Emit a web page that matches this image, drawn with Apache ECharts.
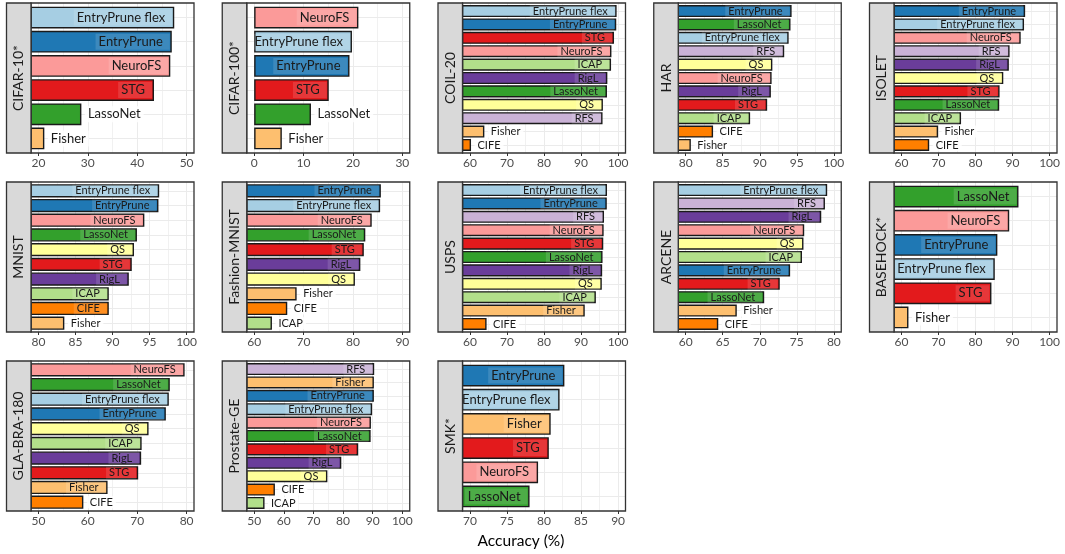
<!DOCTYPE html>
<html><head><meta charset="utf-8">
<script src="https://cdn.jsdelivr.net/npm/echarts@6/dist/echarts.min.js"></script>
<style>html,body{margin:0;padding:0;background:#fff}#c{width:1065px;height:554px}</style>
</head><body><div id="c"></div>
<script>
const panelNames = ['CIFAR-10*','CIFAR-100*','COIL-20','HAR','ISOLET','MNIST','Fashion-MNIST','USPS','ARCENE','BASEHOCK*','GLA-BRA-180','Prostate-GE','SMK*'];

const cifar10Methods = ['EntryPrune flex','EntryPrune','NeuroFS','STG','LassoNet','Fisher'];
const cifar10Acc = [47.5,47.0,46.7,43.4,28.7,21.2];
const cifar10Ticks = [20,30,40,50];

const cifar100Methods = ['NeuroFS','EntryPrune flex','EntryPrune','STG','LassoNet','Fisher'];
const cifar100Acc = [21.1,19.8,19.3,15.1,11.5,5.6];
const cifar100Ticks = [0,10,20,30];

const coil20Methods = ['EntryPrune flex','EntryPrune','STG','NeuroFS','ICAP','RigL','LassoNet','QS','RFS','Fisher','CIFE'];
const coil20Acc = [99.6,99.5,98.9,98.2,98.1,97.1,97.0,95.9,95.8,63.9,60.3];
const coil20Ticks = [60,70,80,90,100];

const harMethods = ['EntryPrune','LassoNet','EntryPrune flex','RFS','QS','NeuroFS','RigL','STG','ICAP','CIFE','Fisher'];
const harAcc = [94.3,94.15,93.9,93.3,91.7,91.6,91.5,91.0,88.7,83.7,80.7];
const harTicks = [80,85,90,95,100];

const isoletMethods = ['EntryPrune','EntryPrune flex','NeuroFS','RFS','RigL','QS','STG','LassoNet','ICAP','Fisher','CIFE'];
const isoletAcc = [93.4,93.1,92.2,89.2,89.0,87.5,86.5,86.4,76.1,69.9,67.5];
const isoletTicks = [60,70,80,90,100];

const mnistMethods = ['EntryPrune flex','EntryPrune','NeuroFS','LassoNet','QS','STG','RigL','ICAP','CIFE','Fisher'];
const mnistAcc = [96.3,96.2,94.3,93.3,92.9,92.6,92.2,89.5,89.5,83.5];
const mnistTicks = [80,85,90,95,100];

const fmnistMethods = ['EntryPrune','EntryPrune flex','NeuroFS','LassoNet','STG','RigL','QS','Fisher','CIFE','ICAP'];
const fmnistAcc = [85.65,85.5,83.8,82.5,82.2,81.5,80.4,68.6,66.7,63.6];
const fmnistTicks = [60,70,80,90];

const uspsMethods = ['EntryPrune flex','EntryPrune','RFS','NeuroFS','STG','LassoNet','RigL','QS','ICAP','Fisher','CIFE'];
const uspsAcc = [97.0,96.95,96.2,96.1,96.0,95.8,95.7,95.6,94.0,91.0,64.5];
const uspsTicks = [60,70,80,90,100];

const arceneMethods = ['EntryPrune flex','RFS','RigL','NeuroFS','QS','ICAP','EntryPrune','STG','LassoNet','Fisher','CIFE'];
const arceneAcc = [79.1,78.8,78.3,76.0,75.9,75.7,74.1,72.7,70.6,66.9,64.4];
const arceneTicks = [60,65,70,75,80];

const basehockMethods = ['LassoNet','NeuroFS','EntryPrune','EntryPrune flex','STG','Fisher'];
const basehockAcc = [91.6,89.1,85.9,85.2,84.3,61.9];
const basehockTicks = [60,70,80,90,100];

const glaMethods = ['NeuroFS','LassoNet','EntryPrune flex','EntryPrune','QS','ICAP','RigL','STG','Fisher','CIFE'];
const glaAcc = [79.6,76.6,76.4,75.8,72.3,70.9,70.8,70.2,64.0,59.1];
const glaTicks = [50,60,70,80];

const prostateMethods = ['RFS','Fisher','EntryPrune','EntryPrune flex','NeuroFS','LassoNet','STG','RigL','QS','CIFE','ICAP'];
const prostateAcc = [90.5,90.4,90.4,89.8,89.4,89.3,85.1,79.4,74.7,57.0,53.5];
const prostateTicks = [50,60,70,80,90,100];

const smkMethods = ['EntryPrune','EntryPrune flex','Fisher','STG','NeuroFS','LassoNet'];
const smkAcc = [82.75,82.1,80.9,80.65,79.2,78.05];
const smkTicks = [70,75,80,85,90];

const axisTitle = 'Accuracy (%)';

const methodColors = {
  'EntryPrune flex':'#a6cee3','EntryPrune':'#1f78b4','LassoNet':'#33a02c','ICAP':'#b2df8a',
  'NeuroFS':'#fb9a99','STG':'#e31a1c','Fisher':'#fdbf6f','CIFE':'#ff7f00',
  'RFS':'#cab2d6','RigL':'#6a3d9a','QS':'#ffff99'
};

const panels = [
  [cifar10Methods,cifar10Acc,cifar10Ticks],[cifar100Methods,cifar100Acc,cifar100Ticks],
  [coil20Methods,coil20Acc,coil20Ticks],[harMethods,harAcc,harTicks],[isoletMethods,isoletAcc,isoletTicks],
  [mnistMethods,mnistAcc,mnistTicks],[fmnistMethods,fmnistAcc,fmnistTicks],[uspsMethods,uspsAcc,uspsTicks],
  [arceneMethods,arceneAcc,arceneTicks],[basehockMethods,basehockAcc,basehockTicks],
  [glaMethods,glaAcc,glaTicks],[prostateMethods,prostateAcc,prostateTicks],[smkMethods,smkAcc,smkTicks]
];

// layout
const FONT = 'Lato';
const plotLeft0 = 31, colPitch = 215.75, plotW = 163, stripW = 24.5;
const rowTops = [3, 182, 361], plotH = 150;
const GRID = '#ebebeb', BORDER = '#333333';

const grids = [], xAxes = [], yAxes = [], series = [], graphics = [];

panels.forEach(([methods, acc, ticks], i) => {
  const r = Math.floor(i / 5), c = i % 5;
  const left = plotLeft0 + c * colPitch, top = rowTops[r];
  const n = methods.length;
  const t0 = ticks[0], t1 = ticks[ticks.length - 1];
  const span = t1 - t0;
  const xmin = t0 - 0.05 * span, xmax = t1 + 0.05 * span;
  const step = ticks[1] - ticks[0];
  const minors = ticks.slice(0, -1).map(t => t + step / 2);
  // ggplot-like discrete expansion: inset grid so bars center at 1..n in [0.4, n+0.6]
  const unit = plotH / (n + 0.2);
  const insetTop = top + 0.1 * unit, insetH = n * unit;

  const gFull = grids.length;
  grids.push({left: left, top: top, width: plotW, height: plotH, containLabel: false});
  const gIn = grids.length;
  grids.push({left: left, top: insetTop, width: plotW, height: insetH, containLabel: false});

  // main x axis (labels, ticks, major grid)
  xAxes.push({
    type: 'value', gridIndex: gFull, position: 'bottom', min: xmin, max: xmax,
    axisLine: {show: false},
    axisTick: {show: true, length: 3, lineStyle: {color: BORDER, width: 1}, customValues: ticks},
    axisLabel: {show: true, customValues: ticks, color: '#4d4d4d', fontSize: 12, fontFamily: FONT, margin: 4},
    splitLine: {show: true, lineStyle: {color: GRID, width: 1}, customValues: ticks},
    minorSplitLine: {show: false}
  });
  // minor grid x axis
  xAxes.push({
    type: 'value', gridIndex: gFull, position: 'top', min: xmin, max: xmax,
    axisLine: {show: false}, axisLabel: {show: false},
    axisTick: {show: false, customValues: minors},
    splitLine: {show: true, lineStyle: {color: GRID, width: 0.7}, customValues: minors}
  });
  // series x axis (inset grid)
  const xSeries = xAxes.length;
  xAxes.push({
    type: 'value', gridIndex: gIn, position: 'bottom', min: xmin, max: xmax,
    axisLine: {show: false}, axisLabel: {show: false}, axisTick: {show: false}, splitLine: {show: false}
  });
  // horizontal grid y axis (full grid)
  const centers = methods.map((m, k) => k + 1);
  yAxes.push({
    type: 'value', gridIndex: gFull, min: 0.4, max: n + 0.6, inverse: true,
    axisLine: {show: false}, axisLabel: {show: false},
    axisTick: {show: false, customValues: centers},
    splitLine: {show: true, lineStyle: {color: GRID, width: 1}, customValues: centers}
  });
  const ySeries = yAxes.length;
  yAxes.push({
    type: 'category', gridIndex: gIn, data: methods, inverse: true,
    axisLine: {show: false}, axisLabel: {show: false}, axisTick: {show: false}, splitLine: {show: false}
  });

  const fs = n <= 6 ? 13 : 11;
  const base = Math.max(0, xmin);
  series.push({
    type: 'bar', xAxisIndex: xSeries, yAxisIndex: ySeries, barWidth: '90%', z: 5,
    data: acc.map((v, k) => {
      const inside = (v - base) / (xmax - xmin) > 0.38;
      return {
        value: v, name: methods[k],
        itemStyle: {color: methodColors[methods[k]], borderColor: '#1a1a1a', borderWidth: 1.4},
        label: inside ? {
          show: true, position: 'insideRight', distance: 2, formatter: '{b}',
          color: '#1a1a1a', fontSize: fs, fontFamily: FONT, textBorderWidth: 0,
          backgroundColor: 'rgba(255,255,255,0.13)', padding: fs > 12 ? [2, 7, 1, 3] : [1, 7, 0, 3]
        } : {
          show: true, position: 'right', distance: 3.5, formatter: '{b}',
          color: '#1a1a1a', fontSize: fs, fontFamily: FONT, textBorderWidth: 0,
          backgroundColor: 'rgba(255,255,255,0.85)', padding: fs > 12 ? [2, 3, 1, 3] : [1, 3, 0, 3]
        }
      };
    })
  });

  // panel border
  graphics.push({type: 'rect', z: 100, silent: true,
    shape: {x: left, y: top, width: plotW, height: plotH},
    style: {fill: 'none', stroke: BORDER, lineWidth: 1.3}});
  // strip
  graphics.push({type: 'rect', z: 100, silent: true,
    shape: {x: left - stripW, y: top, width: stripW, height: plotH},
    style: {fill: '#d9d9d9', stroke: BORDER, lineWidth: 1.3}});
  graphics.push({type: 'text', z: 101, silent: true,
    x: left - stripW / 2, y: top + plotH / 2, rotation: Math.PI / 2,
    style: {text: panelNames[i], x: 0, y: 0, align: 'center', verticalAlign: 'middle',
      fontSize: 14, fontFamily: FONT, fill: '#1a1a1a'}});
});

graphics.push({type: 'text', z: 101, silent: true, x: 521, y: 541,
  style: {text: axisTitle, x: 0, y: 0, align: 'center', verticalAlign: 'middle',
    fontSize: 15.5, fontFamily: FONT, fill: '#000'}});

const chart = echarts.init(document.getElementById('c'), null, {renderer: 'canvas'});
chart.setOption({
  animation: false,
  backgroundColor: '#ffffff',
  textStyle: {fontFamily: FONT},
  grid: grids, xAxis: xAxes, yAxis: yAxes, series: series, graphic: graphics
});
</script></body></html>
